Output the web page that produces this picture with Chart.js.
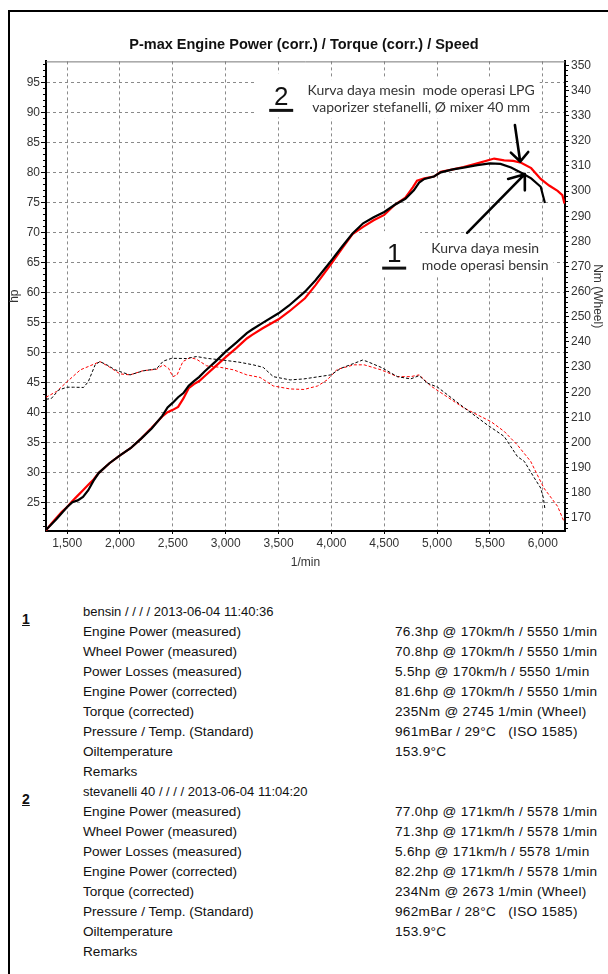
<!DOCTYPE html>
<html>
<head>
<meta charset="utf-8">
<script src="https://cdn.jsdelivr.net/npm/chart.js@4.4.1/dist/chart.umd.min.js"></script>
<style>
  body { margin: 0; width: 608px; height: 974px; background: #fff; position: relative; overflow: hidden;
         font-family: "Liberation Sans", Arial, sans-serif; color: #111; }
  .frame-top { position: absolute; left: 8px; top: 10px; width: 600px; height: 2px; background: #000; }
  .frame-left { position: absolute; left: 8px; top: 10px; width: 2px; height: 964px; background: #000; }
  #wrap { position: absolute; left: 0; top: 0; width: 608px; height: 580px; }
  canvas { display: block; }
  .row { position: absolute; font-size: 13.6px; line-height: 20px; white-space: pre; }
  .row.head { font-size: 13px; }
  .row.val { letter-spacing: 0.3px; }
  .mark { position: absolute; left: 22px; font-size: 14px; font-weight: bold; text-decoration: underline; }
</style>
</head>
<body>
<div class="frame-top"></div>
<div class="frame-left"></div>
<div id="wrap"><canvas id="chart" width="608" height="580"></canvas></div>
<div id="info"></div>
<script>
// drehzahl (1/min) und leistung (hp) - lauf 1 bensin
const bensinPowerRpm = [1300, 1350, 1400, 1450, 1500, 1550, 1600, 1650, 1700, 1750, 1800, 1900, 2000, 2100, 2200, 2300, 2400, 2450, 2500, 2550, 2600, 2650, 2700, 2750, 2800, 2900, 3000, 3100, 3200, 3250, 3350, 3500, 3600, 3750, 3850, 4000, 4100, 4200, 4300, 4400, 4500, 4600, 4700, 4780, 4830, 4880, 4970, 5035, 5150, 5250, 5380, 5500, 5600, 5700, 5800, 5890, 5980, 6020];
const bensinPowerHp = [20.4, 21.3, 22.2, 23.2, 24.2, 25.0, 25.3, 25.9, 27.0, 28.6, 29.9, 31.5, 32.8, 34.0, 35.6, 37.3, 39.4, 40.8, 41.6, 42.5, 43.2, 44.4, 45.2, 45.9, 46.8, 48.4, 50.1, 51.6, 53.2, 53.8, 54.9, 56.5, 57.8, 60.1, 62.0, 65.3, 67.6, 69.8, 71.5, 72.5, 73.4, 74.6, 75.6, 77.0, 78.3, 78.9, 79.3, 80.0, 80.5, 80.8, 81.2, 81.5, 81.4, 80.8, 79.9, 79.0, 77.6, 74.9];

// lauf 2 stevanelli 40 (LPG)
const lpgPowerRpm = [1300, 1350, 1400, 1450, 1500, 1550, 1600, 1650, 1700, 1750, 1800, 1900, 2000, 2100, 2200, 2300, 2400, 2450, 2500, 2550, 2600, 2650, 2700, 2750, 2800, 2900, 3000, 3100, 3200, 3250, 3350, 3500, 3600, 3750, 3850, 4000, 4100, 4200, 4300, 4400, 4500, 4600, 4700, 4770, 4810, 4880, 4970, 5035, 5150, 5250, 5380, 5540, 5635, 5720, 5795, 5890, 5980, 6060, 6140, 6185, 6205];
const lpgPowerHp = [20.3, 21.4, 22.4, 23.4, 24.2, 25.2, 26.1, 27.0, 27.9, 28.8, 29.9, 31.5, 32.8, 34.0, 35.6, 37.4, 39.3, 40.0, 40.4, 40.9, 42.3, 44.0, 44.7, 45.2, 46.0, 47.6, 49.2, 50.7, 52.3, 52.9, 54.0, 55.5, 56.8, 59.0, 61.2, 64.8, 67.3, 69.7, 70.9, 72.0, 72.9, 74.6, 75.8, 77.5, 78.6, 79.0, 79.3, 80.1, 80.5, 80.9, 81.5, 82.3, 82.0, 81.9, 81.6, 80.7, 78.9, 77.8, 76.9, 76.2, 74.8];

// drehmoment (Nm, Wheel)
const bensinTorqueRpm = [1300, 1350, 1420, 1500, 1560, 1655, 1700, 1765, 1810, 1875, 1950, 2000, 2095, 2220, 2345, 2410, 2490, 2630, 2725, 2820, 3010, 3135, 3260, 3355, 3450, 3610, 3740, 3995, 4090, 4215, 4295, 4340, 4470, 4625, 4750, 4830, 4910, 5005, 5255, 5475, 5635, 5760, 5825, 5920, 5980, 6005, 6020];
const bensinTorqueNm = [217.2, 217.5, 220.9, 222.0, 222.0, 221.9, 224.2, 230.9, 232.2, 230.9, 229.0, 228.2, 226.9, 228.5, 229.3, 232.4, 233.5, 233.4, 234.2, 233.5, 232.6, 231.9, 230.9, 229.9, 226.2, 224.9, 225.3, 226.9, 229.5, 231.5, 232.8, 232.2, 229.9, 226.2, 225.3, 226.6, 223.6, 222.0, 213.9, 207.0, 202.4, 194.4, 192.5, 185.9, 181.9, 178.0, 173.6];

const lpgTorqueRpm = [1300, 1400, 1500, 1625, 1750, 1810, 1905, 2000, 2095, 2220, 2345, 2410, 2460, 2500, 2540, 2595, 2665, 2725, 2820, 2950, 3075, 3200, 3325, 3450, 3610, 3740, 3870, 3960, 4055, 4215, 4310, 4470, 4625, 4750, 4830, 4940, 5255, 5510, 5635, 5760, 5885, 6010, 6140, 6200];
const lpgTorqueNm = [218.0, 220.3, 224.2, 228.9, 231.1, 232.2, 229.9, 227.3, 226.9, 228.6, 229.1, 230.9, 229.5, 226.2, 226.9, 232.2, 233.8, 233.1, 230.5, 229.9, 228.9, 226.9, 225.9, 222.5, 221.3, 221.1, 222.5, 224.9, 229.1, 230.9, 230.9, 228.9, 226.2, 226.2, 226.9, 222.5, 213.7, 208.3, 204.4, 199.0, 192.5, 181.9, 174.6, 168.6];

// achsenbeschriftung
const rpmTicks = [1500, 2000, 2500, 3000, 3500, 4000, 4500, 5000, 5500, 6000];
const hpTicks = [25, 30, 35, 40, 45, 50, 55, 60, 65, 70, 75, 80, 85, 90, 95];
const nmTicks = [170, 180, 190, 200, 210, 220, 230, 240, 250, 260, 270, 280, 290, 300, 310, 320, 330, 340, 350];

// tabelle unten
const run1Header = 'bensin / / / / 2013-06-04 11:40:36';
const run2Header = 'stevanelli 40 / / / / 2013-06-04 11:04:20';
const rowLabels = ['Engine Power (measured)', 'Wheel Power (measured)', 'Power Losses (measured)', 'Engine Power (corrected)', 'Torque (corrected)', 'Pressure / Temp. (Standard)', 'Oiltemperature', 'Remarks'];
const run1Values = ['76.3hp @ 170km/h / 5550 1/min', '70.8hp @ 170km/h / 5550 1/min', '5.5hp @ 170km/h / 5550 1/min', '81.6hp @ 170km/h / 5550 1/min', '235Nm @ 2745 1/min (Wheel)', '961mBar / 29°C   (ISO 1585)', '153.9°C', ''];
const run2Values = ['77.0hp @ 171km/h / 5578 1/min', '71.3hp @ 171km/h / 5578 1/min', '5.6hp @ 171km/h / 5578 1/min', '82.2hp @ 171km/h / 5578 1/min', '234Nm @ 2673 1/min (Wheel)', '962mBar / 28°C   (ISO 1585)', '153.9°C', ''];

const toPoints = (xs, ys) => xs.map((x, i) => ({ x: x, y: ys[i] }));

// beschriftungen im diagramm, in daten-koordinaten (rpm, hp)
const notes = [
  { lines: ['Kurva daya mesin  mode operasi LPG', 'vaporizer stefanelli, Ø mixer 40 mm'], rpm: 4849, hp: [93.7, 90.8] },
  { lines: ['Kurva daya mesin', 'mode operasi bensin'], rpm: 5455, hp: [67.3, 64.5] }
];
const bigMarks = [{ text: '2', rpm: 3525, hp: 92.5 }, { text: '1', rpm: 4594, hp: 66.2 }];
const arrows = [
  { from: [5736, 87.9], to: [5786, 81.8], wings: [[5698, 83.3], [5862, 83.4]] },
  { from: [5284, 69.9], to: [5830, 79.7], wings: [[5672, 78.9], [5830, 77.0]] }
];

const annoPlugin = {
  id: 'anno',
  beforeDatasetsDraw(chart) {
    const { ctx, scales: { x, hp } } = chart;
    ctx.save();
    // weisse flaechen hinter den texten
    ctx.fillStyle = '#fff';
    ctx.font = '14px Lato, "Noto Sans", sans-serif';
    notes.forEach(n => {
      const w = Math.max(...n.lines.map(l => ctx.measureText(l).width));
      const cx = x.getPixelForValue(n.rpm);
      const y0 = hp.getPixelForValue(n.hp[0]) - 11;
      const y1 = hp.getPixelForValue(n.hp[n.hp.length - 1]) + 11;
      ctx.fillRect(cx - w / 2 - 5, y0, w + 10, y1 - y0);
    });
    bigMarks.forEach(m => {
      const cx = x.getPixelForValue(m.rpm);
      const cy = hp.getPixelForValue(m.hp);
      ctx.fillRect(cx - 26, cy - 24, 52, 44);
    });
    ctx.restore();
  },
  afterDatasetsDraw(chart) {
    const { ctx, scales: { x, hp } } = chart;
    ctx.save();
    ctx.fillStyle = '#333';
    ctx.textAlign = 'center';
    ctx.textBaseline = 'middle';
    ctx.font = '14px Lato, "Noto Sans", sans-serif';
    notes.forEach(n => {
      n.lines.forEach((l, i) => ctx.fillText(l, x.getPixelForValue(n.rpm), hp.getPixelForValue(n.hp[i])));
    });
    ctx.fillStyle = '#111';
    ctx.strokeStyle = '#111';
    ctx.font = '26px "Liberation Sans", Arial, sans-serif';
    bigMarks.forEach(m => {
      const cx = x.getPixelForValue(m.rpm);
      const cy = hp.getPixelForValue(m.hp);
      ctx.fillText(m.text, cx, cy);
      ctx.lineWidth = 3;
      ctx.beginPath();
      ctx.moveTo(cx - 12, cy + 13);
      ctx.lineTo(cx + 12, cy + 13);
      ctx.stroke();
    });
    // pfeile
    ctx.strokeStyle = '#000';
    ctx.lineWidth = 2.6;
    ctx.lineCap = 'round';
    arrows.forEach(a => {
      const tx = x.getPixelForValue(a.to[0]), ty = hp.getPixelForValue(a.to[1]);
      ctx.beginPath();
      ctx.moveTo(x.getPixelForValue(a.from[0]), hp.getPixelForValue(a.from[1]));
      ctx.lineTo(tx, ty);
      a.wings.forEach(wg => {
        ctx.moveTo(x.getPixelForValue(wg[0]), hp.getPixelForValue(wg[1]));
        ctx.lineTo(tx, ty);
      });
      ctx.stroke();
    });
    ctx.restore();
  },
  afterDraw(chart) {
    const { ctx, chartArea: area, scales: { hp, nm } } = chart;
    ctx.save();
    // obere rahmenlinie
    ctx.strokeStyle = '#777';
    ctx.lineWidth = 1;
    ctx.beginPath();
    ctx.moveTo(area.left, area.top + 0.5);
    ctx.lineTo(area.right, area.top + 0.5);
    ctx.stroke();
    // kleine ticks
    ctx.strokeStyle = '#000';
    ctx.beginPath();
    for (let v = 21; v <= 98; v++) {
      if (v % 5 === 0) continue;
      const y = Math.round(hp.getPixelForValue(v)) + 0.5;
      ctx.moveTo(area.left - 3, y);
      ctx.lineTo(area.left, y);
    }
    for (let v = 166; v <= 350; v += 2) {
      if (v % 10 === 0) continue;
      const y = Math.round(nm.getPixelForValue(v)) + 0.5;
      ctx.moveTo(area.right, y);
      ctx.lineTo(area.right + 3, y);
    }
    ctx.stroke();
    ctx.restore();
  }
};

Chart.defaults.font.family = '"Liberation Sans", Arial, sans-serif';
Chart.defaults.color = '#333';

const fixTicks = list => scale => { scale.ticks = list.map(v => ({ value: v })); };

const ctx = document.getElementById('chart').getContext('2d');
const chart = new Chart(ctx, {
  type: 'line',
  data: {
    datasets: [
      { label: 'Torque bensin', data: toPoints(bensinTorqueRpm, bensinTorqueNm), yAxisID: 'nm',
        borderColor: '#000', borderWidth: 1, borderDash: [3, 2], pointRadius: 0 },
      { label: 'Torque stevanelli 40', data: toPoints(lpgTorqueRpm, lpgTorqueNm), yAxisID: 'nm',
        borderColor: '#ff0000', borderWidth: 1, borderDash: [3, 2], pointRadius: 0 },
      { label: 'Power bensin', data: toPoints(bensinPowerRpm, bensinPowerHp), yAxisID: 'hp',
        borderColor: '#000', borderWidth: 2.2, pointRadius: 0 },
      { label: 'Power stevanelli 40', data: toPoints(lpgPowerRpm, lpgPowerHp), yAxisID: 'hp',
        borderColor: '#ff0000', borderWidth: 2.2, pointRadius: 0 }
    ]
  },
  options: {
    responsive: false,
    animation: false,
    events: [],
    layout: { padding: 0 },
    plugins: {
      legend: { display: false },
      tooltip: { enabled: false },
      title: {
        display: true,
        text: 'P-max Engine Power (corr.) / Torque (corr.) / Speed',
        color: '#111',
        font: { size: 14.5, weight: 'bold' },
        padding: { top: 36, bottom: 8 }
      }
    },
    scales: {
      x: {
        type: 'linear',
        min: 1300,
        max: 6210,
        afterFit: s => { s.height = 49; },
        afterBuildTicks: fixTicks(rpmTicks),
        ticks: { autoSkip: false, maxRotation: 0, padding: 2, font: { size: 12 },
                 callback: v => v.toLocaleString('en-US') },
        grid: { color: '#8a8a8a', tickColor: '#000', tickLength: 3 },
        border: { color: '#000', width: 2, dash: [3, 3] },
        title: { display: true, text: '1/min', font: { size: 12 }, padding: { top: 0, bottom: 10 } }
      },
      hp: {
        position: 'left',
        min: 20.2,
        max: 98.5,
        afterFit: s => { s.width = 46; },
        afterBuildTicks: fixTicks(hpTicks),
        ticks: { padding: 1, font: { size: 12 } },
        grid: { color: '#8a8a8a', tickColor: '#000', tickLength: 5 },
        border: { color: '#000', width: 2, dash: [3, 3] },
        title: { display: true, text: 'hp', font: { size: 12 }, padding: { top: 7, bottom: 0 } }
      },
      nm: {
        position: 'right',
        min: 164.8,
        max: 351.6,
        afterFit: s => { s.width = 43; },
        afterBuildTicks: fixTicks(nmTicks),
        ticks: { padding: 2, font: { size: 12 } },
        grid: { drawOnChartArea: false, tickColor: '#000', tickLength: 4 },
        border: { color: '#000', width: 2 },
        title: { display: true, text: 'Nm (Wheel)', font: { size: 12 }, padding: { top: 3, bottom: 0 } }
      }
    }
  },
  plugins: [annoPlugin]
});

// tabelle mit den messwerten
const info = document.getElementById('info');
function addRow(text, cls, left, centerY) {
  const d = document.createElement('div');
  d.className = 'row ' + cls;
  d.style.left = left + 'px';
  d.style.top = (centerY - 10) + 'px';
  d.textContent = text;
  info.appendChild(d);
}
function addRun(mark, header, values, startY) {
  const m = document.createElement('div');
  m.className = 'mark';
  m.style.top = (startY - 1) + 'px';
  m.textContent = mark;
  info.appendChild(m);
  addRow(header, 'head', 83, startY);
  rowLabels.forEach((l, i) => {
    addRow(l, '', 83, startY + 20 * (i + 1));
    if (values[i]) addRow(values[i], 'val', 395, startY + 20 * (i + 1));
  });
}
addRun('1', run1Header, run1Values, 612);
addRun('2', run2Header, run2Values, 792);
</script>
</body>
</html>
